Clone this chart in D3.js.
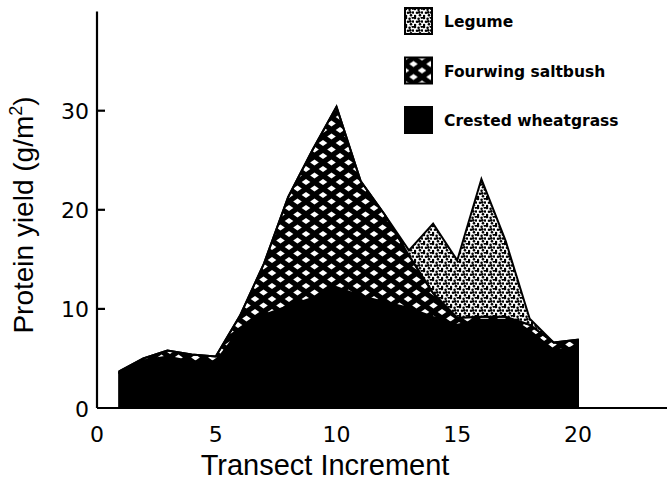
<!DOCTYPE html>
<html>
<head>
<meta charset="utf-8">
<script src="https://cdn.jsdelivr.net/npm/d3@7"></script>
<style>
  body { margin: 0; background: #fff; }
  svg { display: block; }
</style>
</head>
<body>
<svg id="chart"></svg>
<script>
// transect increments and protein yield (g/m2) per species
const increments = [1, 2, 3, 4, 5, 6, 7, 8, 9, 10, 11, 12, 13, 14, 15, 16, 17, 18, 19, 20];
const wheatgrass = [3.6, 4.8, 5.2, 4.7, 4.7, 7.9, 9.4, 10.3, 11.1, 12.2, 11.3, 10.7, 10.1, 9.2, 8.4, 8.9, 8.9, 7.8, 5.8, 6.2];
const saltbush   = [0.1, 0.2, 0.6, 0.7, 0.5, 1.4, 5.2, 11.0, 14.9, 18.2, 11.6, 8.8, 5.3, 2.4, 0.7, 0.3, 0.3, 0.6, 0.8, 0.7];
const legume     = [0, 0, 0, 0, 0, 0, 0, 0, 0, 0, 0, 0, 0.5, 7.0, 5.8, 13.9, 7.7, 0.6, 0, 0];

const xTicks = [0, 5, 10, 15, 20];
const yTicks = [0, 10, 20, 30];
const legendLabels = ["Legume", "Fourwing saltbush", "Crested wheatgrass"];

const width = 669, height = 481;

let svg = d3.select('#chart')
    .attr('width', width)
    .attr('height', height)

// patterns: crosshatch for saltbush, stipple for legume
let defs = svg.append('defs')

let cross = defs.append('pattern')
    .attr('id', 'cross')
    .attr('patternUnits', 'userSpaceOnUse')
    .attr('width', 17).attr('height', 13)
cross.append('rect').attr('width', 17).attr('height', 13).attr('fill', '#000')
let diamondCentres = [[8.5, 6.5], [0, 0], [17, 0], [0, 13], [17, 13]]
cross.selectAll('path')
    .data(diamondCentres)
    .join('path')
    .attr('fill', '#fff')
    .attr('d', d => `M${d[0] - 4.3},${d[1]} L${d[0]},${d[1] - 3.1} L${d[0] + 4.3},${d[1]} L${d[0]},${d[1] + 3.1} Z`)

let stipple = defs.append('pattern')
    .attr('id', 'stipple')
    .attr('patternUnits', 'userSpaceOnUse')
    .attr('width', 9).attr('height', 9)
stipple.append('rect').attr('width', 9).attr('height', 9).attr('fill', '#fff')
let dots = [[1, 1], [4.6, 1.8], [7.8, 0.6], [8, 4.5], [3, 4.8], [6, 7.3], [1, 8], [5.2, 4.4]]
stipple.selectAll('circle')
    .data(dots)
    .join('circle')
    .attr('cx', d => d[0]).attr('cy', d => d[1])
    .attr('r', 1.3)
    .attr('fill', '#000')

// scales
let xScale = d3.scaleLinear().domain([0, 24]).range([95, 95 + 24.15 * 24])
let yScale = d3.scaleLinear().domain([0, 40]).range([408, 11.6])

// stacked layers
let table = increments.map((d, i) => ({
    x: d,
    wheatgrass: wheatgrass[i],
    saltbush: saltbush[i],
    legume: legume[i]
}))
let keys = ['wheatgrass', 'saltbush', 'legume']
let fills = { wheatgrass: '#000', saltbush: 'url(#cross)', legume: 'url(#stipple)' }
let series = d3.stack().keys(keys)(table)

let area = d3.area()
    .x(d => xScale(d.data.x))
    .y0(d => yScale(d[0]))
    .y1(d => yScale(d[1]))

svg.append('g')
    .selectAll('path')
    .data(series)
    .join('path')
    .attr('fill', d => fills[d.key])
    .attr('stroke', '#000')
    .attr('stroke-width', 2)
    .attr('stroke-linejoin', 'miter')
    .attr('d', area)

// axes drawn by hand-ish, the figure has no bottom ticks
let axisX0 = 97
svg.append('line')
    .attr('x1', axisX0).attr('x2', 667)
    .attr('y1', yScale(0)).attr('y2', yScale(0))
    .attr('stroke', '#000').attr('stroke-width', 2.2)
svg.append('line')
    .attr('x1', axisX0).attr('x2', axisX0)
    .attr('y1', yScale(0)).attr('y2', yScale(40))
    .attr('stroke', '#000').attr('stroke-width', 2.2)

// y ticks point into the plot
svg.append('g')
    .selectAll('line')
    .data(yTicks.filter(d => d > 0))
    .join('line')
    .attr('x1', axisX0).attr('x2', axisX0 + 8)
    .attr('y1', d => yScale(d)).attr('y2', d => yScale(d))
    .attr('stroke', '#000').attr('stroke-width', 2.2)

svg.append('g')
    .selectAll('text')
    .data(yTicks)
    .join('text')
    .attr('x', 89)
    .attr('y', d => yScale(d) + 1)
    .attr('text-anchor', 'end')
    .attr('dominant-baseline', 'central')
    .style('font-family', 'DejaVu Sans')
    .style('font-size', '22px')
    .text(d => d)

svg.append('g')
    .selectAll('text')
    .data(xTicks)
    .join('text')
    .attr('x', d => xScale(d) + (d === 0 ? 2 : 0))
    .attr('y', 434)
    .attr('text-anchor', 'middle')
    .attr('dominant-baseline', 'central')
    .style('font-family', 'DejaVu Sans')
    .style('font-size', '22px')
    .text(d => d)

// axis titles
svg.append('text')
    .attr('x', 325)
    .attr('y', 475)
    .attr('text-anchor', 'middle')
    .style('font-family', 'Liberation Sans')
    .style('font-size', '29px')
    .text('Transect Increment')

let ylab = svg.append('text')
    .attr('transform', 'translate(33,215) rotate(-90)')
    .attr('text-anchor', 'middle')
    .style('font-family', 'Liberation Sans')
    .style('font-size', '28px')
ylab.append('tspan').text('Protein yield (g/m')
ylab.append('tspan').attr('dy', -11).style('font-size', '18px').text('2')
ylab.append('tspan').attr('dy', 11).text(')')

// legend
let legendFills = ['url(#stipple)', 'url(#cross)', '#000']
let legend = svg.append('g')
    .selectAll('g')
    .data(legendLabels)
    .join('g')
    .attr('transform', (d, i) => `translate(405,${8 + i * 49.5})`)
legend.append('rect')
    .attr('width', 27).attr('height', 26)
    .attr('fill', (d, i) => legendFills[i])
    .attr('stroke', '#000').attr('stroke-width', 2)
legend.append('text')
    .attr('x', 39)
    .attr('y', 14)
    .attr('dominant-baseline', 'central')
    .style('font-family', 'DejaVu Sans')
    .style('font-weight', 'bold')
    .style('font-size', '15.5px')
    .text(d => d)
</script>
</body>
</html>
